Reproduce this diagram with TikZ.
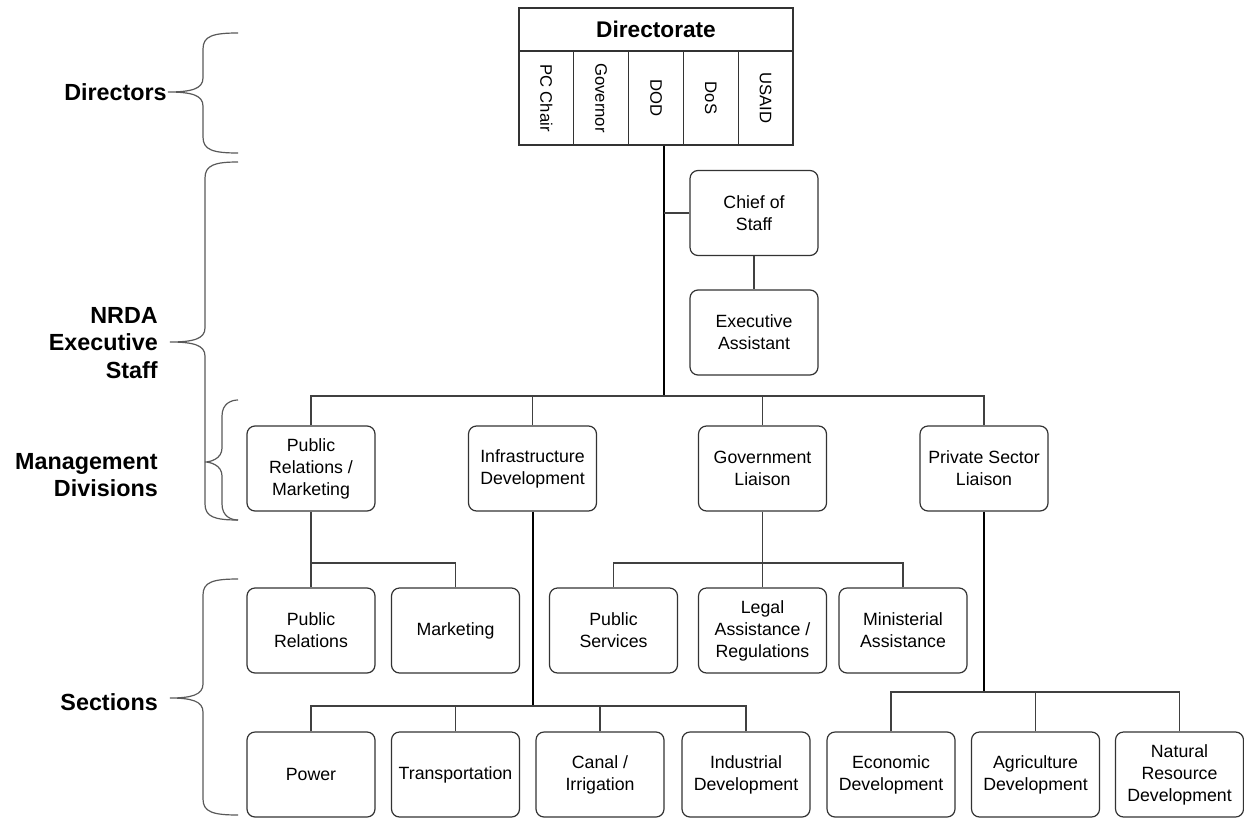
\documentclass[tikz,border=0pt]{standalone}
\usepackage{fontspec}
\setmainfont{Liberation Sans}
\usetikzlibrary{calc}
\newcommand\drawbrace[5]{%
  \draw[bracel] (238,#1) .. controls ({#4+10},#1) and (#4,{#1+3}) .. (#4,{#1+16})
    -- (#4,{#2-14}) .. controls (#4,{#2-3}) and ({#4-12},#2) .. (#5,#2)
    .. controls ({#4-12},#2) and (#4,{#2+3}) .. (#4,{#2+14})
    -- (#4,{#3-16}) .. controls (#4,{#3-3}) and ({#4+10},#3) .. (238,#3);}
\begin{document}
\begin{tikzpicture}[x=0.75pt,y=-0.75pt,
  box/.style={draw=black!80,line width=0.9pt,rounded corners=6pt,minimum width=96pt,
    minimum height=63.75pt,inner sep=0pt,align=center,font=\fontsize{13.3}{16.5}\selectfont},
  hdr/.style={draw=black!80,line width=0.9pt,minimum width=205.5pt,minimum height=32.25pt,
    inner sep=0pt,font=\fontsize{17}{20}\selectfont\bfseries},
  col/.style={draw=black!80,line width=0.9pt,minimum width=41.1pt,minimum height=70.5pt,inner sep=0pt},
  vtext/.style={rotate=-90,inner sep=0pt,font=\fontsize{12.5}{14}\selectfont},
  lab/.style={inner sep=0pt,align=right,font=\fontsize{17.5}{20.5}\selectfont\bfseries},
  conn/.style={draw=black!75,line width=0.9pt},
  main/.style={draw=black,line width=1.5pt},
  bracel/.style={draw=black!65,line width=0.9pt}]
\useasboundingbox (0,0) rectangle (1244,817);
% Directorate table
\node[hdr] (dir) at (656,29.5) {Directorate};
\node[col] (pcc) at (546.4,98) {};
\node[col] (gvn) at (601.2,98) {};
\node[col] (dod) at (656,98) {};
\node[col] (dos) at (710.8,98) {};
\node[col] (usaid) at (765.6,98) {};
\node[vtext] (tpcc) at (pcc) {PC Chair};
\node[vtext] (tgvn) at (gvn) {Governor};
\node[vtext] (tdod) at (dod) {DOD};
\node[vtext] (tdos) at (dos) {DoS};
\node[vtext] (tusaid) at (usaid) {USAID};
% Executive staff
\node[box] (chief) at (754,213) {Chief of\\Staff};
\node[box] (exec) at (754,332.5) {Executive\\Assistant};
% Divisions
\node[box] (prm) at (311,468.5) {Public\\Relations /\\Marketing};
\node[box] (infra) at (532.5,468.5) {Infrastructure\\Development};
\node[box] (gov) at (762.5,468.5) {Government\\Liaison};
\node[box] (priv) at (984,468.5) {Private Sector\\Liaison};
% Sections row 1
\node[box] (pr) at (311,630.5) {Public\\Relations};
\node[box] (mkt) at (455.5,630.5) {Marketing};
\node[box] (ps) at (613.5,630.5) {Public\\Services};
\node[box] (legal) at (762.5,630.5) {Legal\\Assistance /\\Regulations};
\node[box] (min) at (903,630.5) {Ministerial\\Assistance};
% Sections row 2
\node[box] (pow) at (311,774.5) {Power};
\node[box] (trn) at (455.5,774.5) {Transportation};
\node[box] (can) at (600,774.5) {Canal /\\Irrigation};
\node[box] (ind) at (746,774.5) {Industrial\\Development};
\node[box] (eco) at (891,774.5) {Economic\\Development};
\node[box] (agr) at (1035.5,774.5) {Agriculture\\Development};
\node[box] (nat) at (1179.5,774.5) {Natural\\Resource\\Development};
% connectors
\coordinate (t0) at ([xshift=6pt]dod.south);
\coordinate (b0) at (664,396);
\draw[main] (t0) -- (b0);
\draw[conn] (chief.west) -- (chief.west -| t0);
\draw[conn] (chief.south) -- (exec.north);
\draw[conn] (prm.north) |- (b0);
\draw[conn] (infra.north) |- (b0);
\draw[conn] (gov.north) |- (b0);
\draw[conn] (priv.north) |- (b0);
\coordinate (j1) at (311,563);
\draw[conn] (prm.south) -- (pr.north);
\draw[conn] (mkt.north) |- (j1);
\coordinate (j2) at (532.5,706);
\draw[main] (infra.south) -- (j2);
\draw[conn] (pow.north) |- (j2);
\draw[conn] (trn.north) |- (j2);
\draw[conn] (can.north) |- (j2);
\draw[conn] (ind.north) |- (j2);
\coordinate (j3) at (762.5,563);
\draw[conn] (gov.south) -- (legal.north);
\draw[conn] (ps.north) |- (j3);
\draw[conn] (min.north) |- (j3);
\coordinate (j4) at (984,692);
\draw[main] (priv.south) -- (j4);
\draw[conn] (eco.north) |- (j4);
\draw[conn] (agr.north) |- (j4);
\draw[conn] (nat.north) |- (j4);
% left labels and braces
\node[lab,anchor=east] (ldir) at (167,92) {Directors};
\node[lab,anchor=east] (lnrda) at (158,343) {NRDA\\Executive\\Staff};
\node[lab,anchor=east] (lmgmt) at (158,475) {Management\\Divisions};
\node[lab,anchor=east] (lsec) at (158,702) {Sections};
\drawbrace{33}{92}{153}{203}{168}
\drawbrace{162}{342}{520}{205}{170}
\drawbrace{400}{462}{520}{222}{205}
\drawbrace{579}{698}{815}{203}{170}
\end{tikzpicture}
\end{document}
